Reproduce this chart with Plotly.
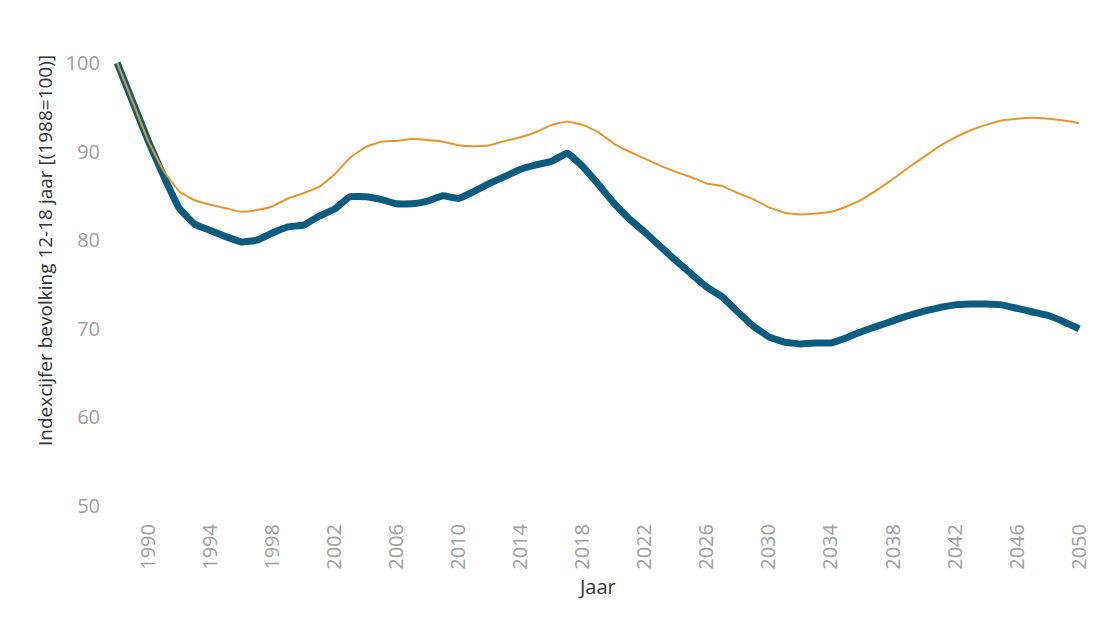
import plotly.graph_objects as go

years = list(range(1988, 2051))

blauw = [100.0, 95.6, 91.2, 87.2, 83.6, 81.8, 81.1, 80.4, 79.8, 80.0,
         80.8, 81.5, 81.7, 82.7, 83.5, 84.9, 84.9, 84.6, 84.1, 84.1,
         84.4, 85.0, 84.7, 85.5, 86.4, 87.2, 88.0, 88.5, 88.9, 89.8,
         88.3, 86.3, 84.2, 82.4, 80.9, 79.3, 77.7, 76.2, 74.7, 73.6,
         71.9, 70.3, 69.1, 68.5, 68.3, 68.4, 68.4, 69.0, 69.7, 70.3,
         70.9, 71.5, 72.0, 72.4, 72.7, 72.8, 72.8, 72.7, 72.3, 71.9,
         71.5, 70.8, 70.0]

oranje = [100.0, 95.6, 91.2, 87.8, 85.5, 84.5, 84.0, 83.6, 83.2, 83.4,
          83.8, 84.7, 85.3, 86.0, 87.4, 89.3, 90.5, 91.1, 91.2, 91.4,
          91.3, 91.1, 90.7, 90.6, 90.7, 91.2, 91.6, 92.2, 93.0, 93.4,
          93.0, 92.2, 90.9, 90.0, 89.2, 88.4, 87.7, 87.1, 86.4, 86.1,
          85.3, 84.6, 83.7, 83.1, 82.9, 83.0, 83.2, 83.8, 84.6, 85.7,
          86.9, 88.2, 89.4, 90.6, 91.6, 92.4, 93.0, 93.5, 93.7, 93.8,
          93.7, 93.5, 93.2]

x_ticks = list(range(1990, 2051, 4))
y_ticks = [50, 60, 70, 80, 90, 100]

fig = go.Figure()
fig.add_trace(go.Scatter(x=years, y=blauw, mode="lines",
                         line=dict(color="#0c5c80", width=7, shape="spline", smoothing=0.3),
                         showlegend=False, hoverinfo="x+y"))
fig.add_trace(go.Scatter(x=years, y=oranje, mode="lines",
                         line=dict(color="#e8962b", width=2, shape="spline", smoothing=0.3),
                         showlegend=False, hoverinfo="x+y"))

fig.update_layout(
    width=1096, height=612,
    margin=dict(l=103, r=15, t=46, b=105),
    paper_bgcolor="white", plot_bgcolor="white",
    font=dict(family="Open Sans", color="#999999"),
    xaxis=dict(range=[1987.6, 2050.5], tickmode="array", tickvals=x_ticks,
               ticktext=[str(t) for t in x_ticks], tickangle=-90,
               showgrid=False, zeroline=False, showline=False, ticks="",
               tickfont=dict(size=20, color="#a0a0a0"), ticklabelstandoff=4),
    yaxis=dict(range=[49, 101], tickmode="array", tickvals=y_ticks,
               ticktext=[str(t) for t in y_ticks],
               showgrid=False, zeroline=False, showline=False, ticks="",
               tickfont=dict(size=20, color="#a0a0a0"), ticklabelstandoff=10),
    annotations=[
        dict(text="Indexcijfer bevolking 12-18 jaar [(1988=100)]", textangle=-90,
             xref="paper", yref="paper", x=-0.0675, y=0.573,
             xanchor="center", yanchor="middle", showarrow=False,
             font=dict(size=19, color="#333333", family="Open Sans")),
        dict(text="Jaar", xref="paper", yref="paper", x=0.498, y=-0.156,
             xanchor="center", yanchor="middle", showarrow=False,
             font=dict(size=20, color="#333333", family="Open Sans")),
    ],
)

fig.write_html("out.html")
